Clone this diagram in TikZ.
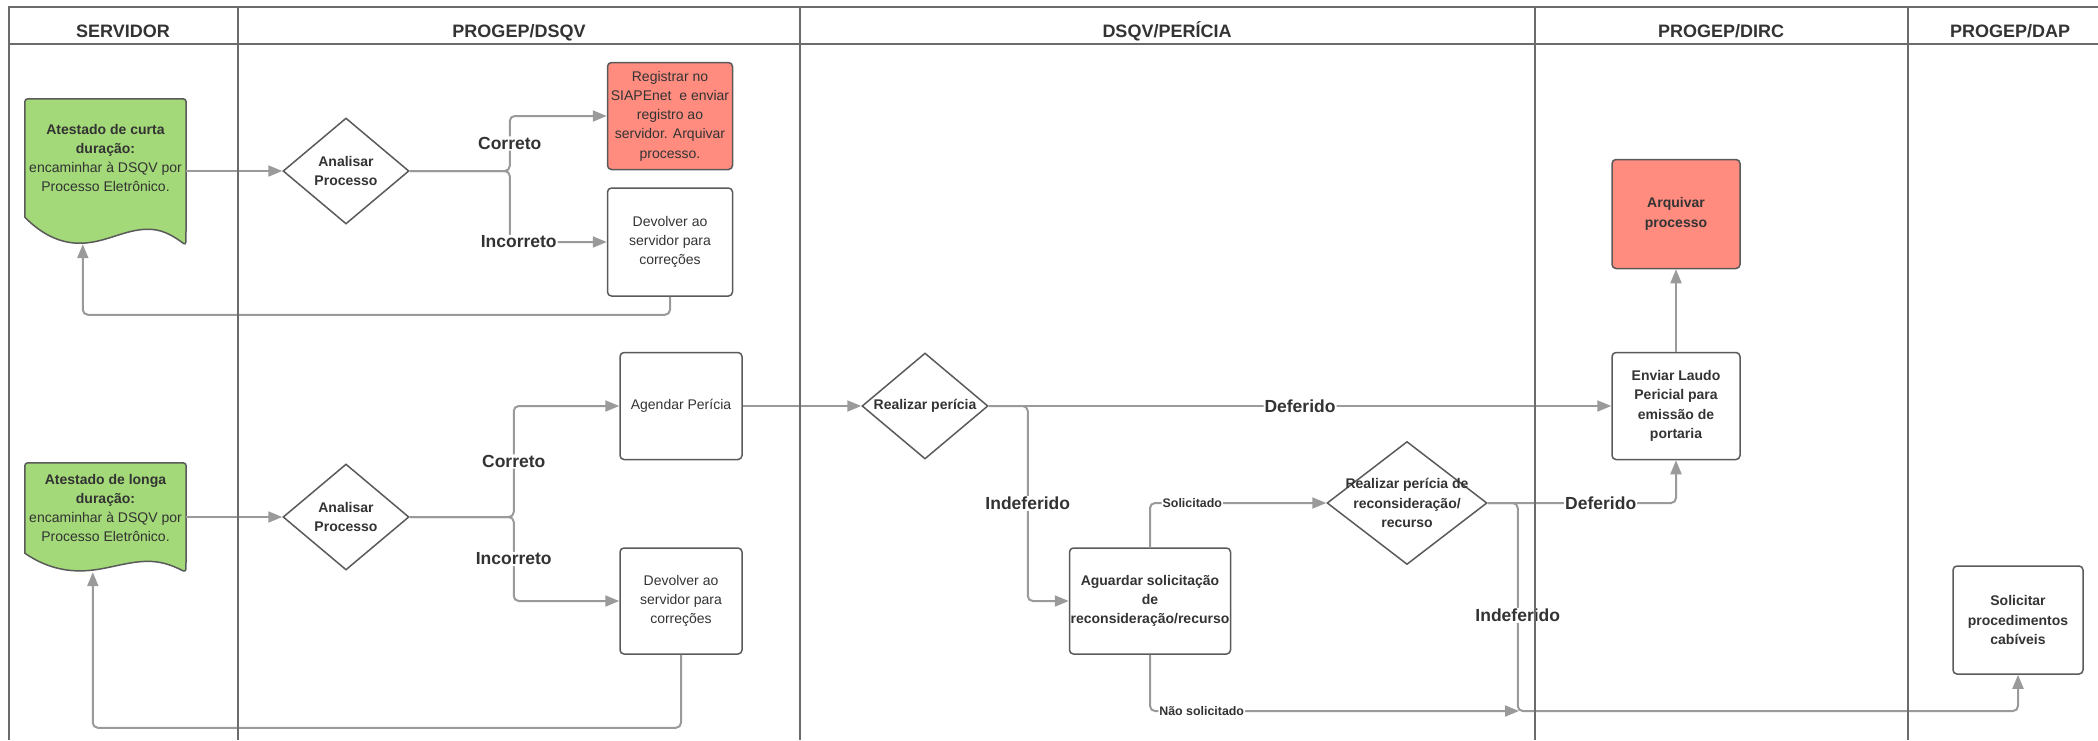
\documentclass[tikz,border=0pt]{standalone}
\usepackage{fontspec}
\setmainfont{Liberation Sans}
\usetikzlibrary{shapes.geometric,arrows.meta,calc,backgrounds}

\definecolor{lanegray}{HTML}{6B6B6B}
\definecolor{linegray}{HTML}{9A9A9A}
\definecolor{boxgray}{HTML}{5A5A5A}
\definecolor{textgray}{HTML}{333333}
\definecolor{boxred}{HTML}{FF8C7F}
\definecolor{docgreen}{HTML}{A3D978}

% wavy bottom of a document node: #1 node name, #2 depth of the wave
\newcommand{\docwave}[2]{%
  \begin{scope}[on background layer, shift={(#1.south west)}]
    \filldraw[fill=docgreen, draw=boxgray, line width=1.5pt, rounded corners=3pt]
      (#1.south west) -- (#1.north west) -- (#1.north east) -- (#1.south east) -- (161,#2)
      [sharp corners] .. controls (145,0.57*#2) and (135,0.43*#2) .. (123,0.43*#2)
      .. controls (100,0.43*#2) and (80,0.93*#2) .. (55,0.93*#2)
      .. controls (30,0.93*#2) and (12,0.43*#2) .. (0,0) -- cycle;
  \end{scope}}

\begin{document}
\begin{tikzpicture}[x=1pt,y=-1pt]
    % Define the styles for the lanes, processes and arrows
    \tikzstyle{lane}=[draw=lanegray, line width=2pt]
    \tikzstyle{header}=[anchor=base, text=textgray, font=\bfseries\fontsize{18}{20}\selectfont]
    \tikzstyle{process}=[rectangle, rounded corners=4pt, draw=boxgray, line width=1.5pt, text=textgray, align=center, inner sep=0pt, font=\fontsize{14}{19.3}\selectfont]
    \tikzstyle{doc}=[rectangle, minimum width=161pt, text=textgray, align=center, inner sep=0pt, font=\fontsize{14}{19.3}\selectfont]
    \tikzstyle{decision}=[diamond, draw=boxgray, line width=1.5pt, fill=white, inner sep=0pt]
    \tikzstyle{dtext}=[text=textgray, align=center, font=\bfseries\fontsize{14}{19.3}\selectfont]
    \tikzstyle{arrow}=[draw=linegray, line width=2pt, rounded corners=5pt, -{Triangle[length=14pt,width=11pt]}]
    \tikzstyle{answer}=[fill=white, text=textgray, inner sep=1pt, font=\bfseries\fontsize{17.5}{20}\selectfont]
    \tikzstyle{small}=[fill=white, text=textgray, inner sep=1pt, font=\bfseries\fontsize{12.4}{14}\selectfont]

    \useasboundingbox (0,0) rectangle (2098,740);

    % Short duration
    \node[doc, minimum height=118pt] (short) at (105.5,158) {\textbf{Atestado de curta}\\\textbf{duração:}\\encaminhar à DSQV por\\Processo Eletrônico.};
    \docwave{short}{28}
    \node[decision, minimum width=126pt, minimum height=106pt, label={[dtext]center:Analisar\\Processo}] (ana1) at (346,171) {};
    \node[process, fill=boxred, minimum width=125pt, minimum height=107pt] (reg) at (670,116) {Registrar no\\SIAPEnet~ e enviar\\registro ao\\servidor. Arquivar\\processo.};
    \node[process, minimum width=125pt, minimum height=108pt] (dev1) at (670,242) {Devolver ao\\servidor para\\correções};

    % Long duration
    \node[doc, minimum height=90pt] (long) at (105.5,508) {\textbf{Atestado de longa}\\\textbf{duração:}\\encaminhar à DSQV por\\Processo Eletrônico.};
    \docwave{long}{19}
    \node[decision, minimum width=126pt, minimum height=106pt, label={[dtext]center:Analisar\\Processo}] (ana2) at (346,517) {};
    \node[process, minimum width=122pt, minimum height=107pt] (agd) at (681,406) {Agendar Perícia};
    \node[process, minimum width=122pt, minimum height=106pt] (dev2) at (681,601) {Devolver ao\\servidor para\\correções};

    % Pericia
    \node[decision, minimum width=126pt, minimum height=106pt, label={[dtext]center:Realizar perícia}] (per) at (925,406) {};
    \node[process, font=\bfseries\fontsize{14}{19.3}\selectfont, minimum width=161pt, minimum height=106pt] (agu) at (1150,601) {Aguardar solicitação\\de\\reconsideração/recurso};
    \node[decision, minimum width=160pt, minimum height=123pt, label={[dtext]center:Realizar perícia de\\reconsideração/\\recurso}] (rec) at (1407,503) {};
    \coordinate (join) at (1519,711);

    % DIRC and DAP
    \node[process, font=\bfseries\fontsize{14}{19.3}\selectfont, minimum width=128pt, minimum height=107pt] (env) at (1676,406) {Enviar Laudo\\Pericial para\\emissão de\\portaria};
    \node[process, fill=boxred, font=\bfseries\fontsize{14}{19.3}\selectfont, minimum width=128pt, minimum height=109pt] (arq) at (1676,214) {Arquivar\\processo};
    \node[process, font=\bfseries\fontsize{14}{19.3}\selectfont, minimum width=130pt, minimum height=108pt] (sol) at (2018,620) {Solicitar\\procedimentos\\cabíveis};

    % Draw the arrows
    \draw[arrow] (short.east |- ana1.west) -- (ana1.west);
    \draw[arrow] (ana1.east) -- ++(100,0) |- (reg.west) node[answer, pos=0.25] {Correto};
    \draw[arrow] (ana1.east) -- ++(100,0) |- (dev1.west) node[answer, pos=0.5, xshift=9pt] {Incorreto};
    \draw[arrow] (dev1.south) -- ++(0,18) -| ($(short.south west)+(58,27)$);

    \draw[arrow] (long.east |- ana2.west) -- (ana2.west);
    \draw[arrow] (ana2.east) -- ++(104,0) |- (agd.west) node[answer, pos=0.25] {Correto};
    \draw[arrow] (ana2.east) -- ++(104,0) |- (dev2.west) node[answer, pos=0.25] {Incorreto};
    \draw[arrow] (dev2.south) -- ++(0,73) -| ($(long.south west)+(68,19)$);

    \draw[arrow] (agd.east) -- (per.west);
    \draw[arrow] (per.east) -- (env.west) node[answer, midway] {Deferido};
    \draw[arrow] (per.east) -- ++(39,0) |- (agu.west) node[answer, pos=0.25] {Indeferido};
    \draw[arrow] (agu.north) |- (rec.west) node[small, pos=0.62] {Solicitado};
    \draw[arrow] (rec.east) -| (env.south) node[answer, pos=0.3] {Deferido};
    \draw[arrow] (rec.east) -- ++(30,0) -- ++(0,208) node[answer, pos=0.54] {Indeferido} -| (sol.south);
    \draw[arrow] (agu.south) |- (join) node[small, pos=0.57] {Não solicitado};
    \draw[arrow] (env.north) -- (arq.south);

    % Draw the lanes
    \draw[lane] (2098,7) -- (9,7) -- (9,740);
    \draw[lane] (9,44) -- (2098,44);
    \foreach \x in {238,800,1535,1908}
        \draw[lane] (\x,7) -- (\x,740);
    \node[header] (h1) at (123,37) {SERVIDOR};
    \node[header] (h2) at (519,37) {PROGEP/DSQV};
    \node[header] (h3) at (1167,37) {DSQV/PERÍCIA};
    \node[header] (h4) at (1721,37) {PROGEP/DIRC};
    \node[header] (h5) at (2010,37) {PROGEP/DAP};
\end{tikzpicture}
\end{document}
